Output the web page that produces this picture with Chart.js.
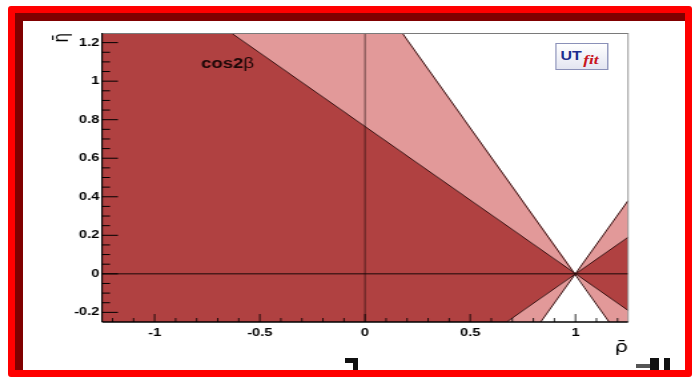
<!DOCTYPE html>
<html><head><meta charset="utf-8">
<script src="https://cdn.jsdelivr.net/npm/chart.js@4/dist/chart.umd.min.js"></script>
<style>
html,body{margin:0;padding:0;background:#fff;width:695px;height:379px;overflow:hidden;}
#wrap{position:absolute;left:0;top:0;width:522px;height:379px;transform-origin:0 0;transform:scaleX(1.33142);}
#logo{position:absolute;left:417px;top:43px;width:40px;height:27px;box-sizing:border-box;border:1px solid #8a90b8;background:linear-gradient(#ffffff,#e3e5f1);white-space:nowrap;line-height:1;z-index:2;}
#logo .ut{position:absolute;left:3px;top:5px;font:bold 12px 'Liberation Sans',Arial,sans-serif;color:#1d2e8f;}
#logo .fit{position:absolute;left:20px;top:8px;font:italic bold 13px 'Liberation Serif',serif;color:#c8161e;}
#frame{position:absolute;left:8px;top:6px;width:684px;height:371px;box-sizing:border-box;border:7px solid #ff0000;box-shadow:inset 8px 8px 0 #800000;border-radius:3px;z-index:5;}
.mk{position:absolute;background:#111;z-index:4;}
</style>
</head>
<body>
<div id="wrap"><canvas id="c"></canvas>
<div id="logo"><span class="ut">UT</span><span class="fit">fit</span></div>
</div>
<div class="mk" style="left:345px;top:358px;width:13px;height:5px;"></div>
<div class="mk" style="left:353px;top:358px;width:5px;height:14px;"></div>
<div class="mk" style="left:636px;top:364px;width:14px;height:4px;background:#555;"></div>
<div class="mk" style="left:650px;top:358px;width:9px;height:14px;"></div>
<div class="mk" style="left:664px;top:358px;width:6px;height:14px;"></div>
<div id="frame"></div>
<script>
// ---- data: polygon vertices [rho, eta] ----
const darkLeftRegion     = [[1, 0], [-0.635, 1.25], [-1.25, 1.25], [-1.25, -0.25], [0.673, -0.25]];
const darkRightRegion    = [[1, 0], [1.25, 0.19], [1.25, -0.19]];
const lightUpperRegion   = [[1, 0], [-0.635, 1.25], [0.177, 1.25]];
const lightLowerRegion   = [[1, 0], [0.673, -0.25], [0.835, -0.25]];
const lightRightUpRegion = [[1, 0], [1.25, 0.19], [1.25, 0.38]];
const lightRightDnRegion = [[1, 0], [1.25, -0.19], [1.25, -0.25], [1.16, -0.25]];
// boundary lines of the cos2beta constraint
const innerLineA = [[-0.635, 1.25], [1.25, -0.19]];
const innerLineB = [[0.673, -0.25], [1.25, 0.19]];
const outerLineA = [[0.177, 1.25], [1.16, -0.25]];
const outerLineB = [[0.835, -0.25], [1.25, 0.38]];
// axes
const xRange = [-1.25, 1.25];
const yRange = [-0.25, 1.25];
const xMajorTicks = [-1, -0.5, 0, 0.5, 1];
const xTickLabels = ['-1', '-0.5', '0', '0.5', '1'];
const yMajorTicks = [-0.2, 0, 0.2, 0.4, 0.6, 0.8, 1, 1.2];
const yTickLabels = ['-0.2', '0', '0.2', '0.4', '0.6', '0.8', '1', '1.2'];
const xMinorStep = 0.1, yMinorStep = 0.05;
const xTitle = '\u03C1\u0304', yTitle = '\u03B7\u0304';
const labelMain = 'cos2', labelGreek = '\u03B2', labelPos = [-0.78, 1.067];

const SX = 1.33142;
const DARK = '#b04141', LIGHT = '#e29999', EDGE = '#3a1212';
const pts = a => a.map(p => ({x: p[0], y: p[1]}));
function region(arr, color) {
  return {data: pts(arr), showLine: true, fill: 'shape', backgroundColor: color, borderWidth: 0,
          borderColor: color, pointRadius: 0, order: 2, tension: 0};
}
function edge(arr) {
  return {data: pts(arr), showLine: true, fill: false, borderColor: EDGE, borderWidth: 1,
          pointRadius: 0, order: 0, tension: 0};
}
function labelFor(v, majors, labels) {
  for (let i = 0; i < majors.length; i++) if (Math.abs(v - majors[i]) < 1e-6) return labels[i];
  return '';
}
function minorTicks(min, max, step) {
  const out = [];
  const k0 = Math.ceil(min / step - 1e-9), k1 = Math.floor(max / step + 1e-9);
  for (let k = k0; k <= k1; k++) out.push({value: Math.round(k * step * 1000) / 1000});
  return out;
}

const deco = {
  id: 'deco',
  afterDatasetsDraw(chart) {
    const {ctx, chartArea: a, scales: {x, y}} = chart;
    ctx.save();
    ctx.strokeStyle = '#1a0808';
    const y0 = y.getPixelForValue(0), x0 = x.getPixelForValue(0);
    ctx.lineWidth = 1;
    ctx.beginPath(); ctx.moveTo(a.left, y0); ctx.lineTo(a.right, y0); ctx.stroke();
    ctx.lineWidth = 0.8 / SX;
    ctx.beginPath(); ctx.moveTo(x0, a.top); ctx.lineTo(x0, a.bottom); ctx.stroke();
    ctx.strokeStyle = '#000';
    ctx.lineWidth = 1;
    ctx.beginPath();
    y.ticks.forEach(t => {
      if (t.value <= y.min + 1e-9 || t.value >= y.max - 1e-9) return;
      const p = y.getPixelForValue(t.value);
      const len = t.label ? 12 : 6;
      ctx.moveTo(a.left, p); ctx.lineTo(a.left + len, p);
    });
    ctx.stroke();
    ctx.lineWidth = 1.1 / SX;
    ctx.beginPath();
    x.ticks.forEach(t => {
      if (t.value <= x.min + 1e-9 || t.value >= x.max - 1e-9) return;
      const p = x.getPixelForValue(t.value);
      const len = t.label ? 8 : 4;
      ctx.moveTo(p, a.bottom); ctx.lineTo(p, a.bottom - len);
    });
    ctx.stroke();
    // frame
    ctx.strokeStyle = '#7a7a7a'; ctx.lineWidth = 1;
    ctx.beginPath(); ctx.moveTo(a.left, a.top + 0.5); ctx.lineTo(a.right, a.top + 0.5); ctx.stroke();
    ctx.lineWidth = 1 / SX;
    ctx.beginPath(); ctx.moveTo(a.right, a.top); ctx.lineTo(a.right, a.bottom); ctx.stroke();
    ctx.strokeStyle = '#000'; ctx.lineWidth = 1.5;
    ctx.beginPath(); ctx.moveTo(a.left, a.bottom); ctx.lineTo(a.right, a.bottom); ctx.stroke();
    ctx.lineWidth = 1.5 / SX;
    ctx.beginPath(); ctx.moveTo(a.left, a.top); ctx.lineTo(a.left, a.bottom); ctx.stroke();
    // label
    const lx = x.getPixelForValue(labelPos[0]), ly = y.getPixelForValue(labelPos[1]);
    ctx.fillStyle = '#1c0707';
    ctx.textBaseline = 'alphabetic';
    ctx.font = 'bold 14px "Liberation Sans", Arial, sans-serif';
    ctx.fillText(labelMain, lx, ly);
    const w = ctx.measureText(labelMain).width;
    ctx.font = '14px "Liberation Sans", Arial, sans-serif';
    ctx.fillText(labelGreek, lx + w, ly);
    ctx.restore();
  }
};

const tickFont = {family: "'Liberation Sans', Arial, sans-serif", weight: 'bold', size: 11};
new Chart(document.getElementById('c'), {
  type: 'scatter',
  data: {datasets: [
    edge(innerLineA), edge(innerLineB), edge(outerLineA), edge(outerLineB),
    region(darkLeftRegion, DARK), region(darkRightRegion, DARK),
    region(lightUpperRegion, LIGHT), region(lightLowerRegion, LIGHT),
    region(lightRightUpRegion, LIGHT), region(lightRightDnRegion, LIGHT)
  ]},
  options: {
    responsive: true, maintainAspectRatio: false, animation: false,
    layout: {padding: {left: 0, top: 33, right: 50.3, bottom: 0}},
    plugins: {legend: {display: false}, tooltip: {enabled: false}},
    scales: {
      x: {type: 'linear', min: xRange[0], max: xRange[1],
          grid: {display: false, drawTicks: false}, border: {display: false},
          afterBuildTicks: s => { s.ticks = minorTicks(xRange[0], xRange[1], xMinorStep); },
          afterFit: s => { s.height = 57; },
          ticks: {autoSkip: false, maxRotation: 0, padding: 4, color: '#000', font: tickFont,
                  callback: v => labelFor(v, xMajorTicks, xTickLabels)},
          title: {display: true, text: xTitle, align: 'end', color: '#000',
                  font: {family: "'DejaVu Sans', sans-serif", size: 16}, padding: {top: 0, bottom: 22}}},
      y: {type: 'linear', min: yRange[0], max: yRange[1],
          grid: {display: false, drawTicks: false}, border: {display: false},
          afterBuildTicks: s => { s.ticks = minorTicks(yRange[0], yRange[1], yMinorStep); },
          afterFit: s => { s.width = 76.6; },
          ticks: {autoSkip: false, padding: 2, color: '#000', font: tickFont,
                  callback: v => labelFor(v, yMajorTicks, yTickLabels)},
          title: {display: true, text: yTitle, align: 'end', color: '#000',
                  font: {family: "'DejaVu Sans', sans-serif", size: 15}, padding: {top: 38, bottom: 0}}}
    }
  },
  plugins: [deco]
});
</script>
</body></html>
